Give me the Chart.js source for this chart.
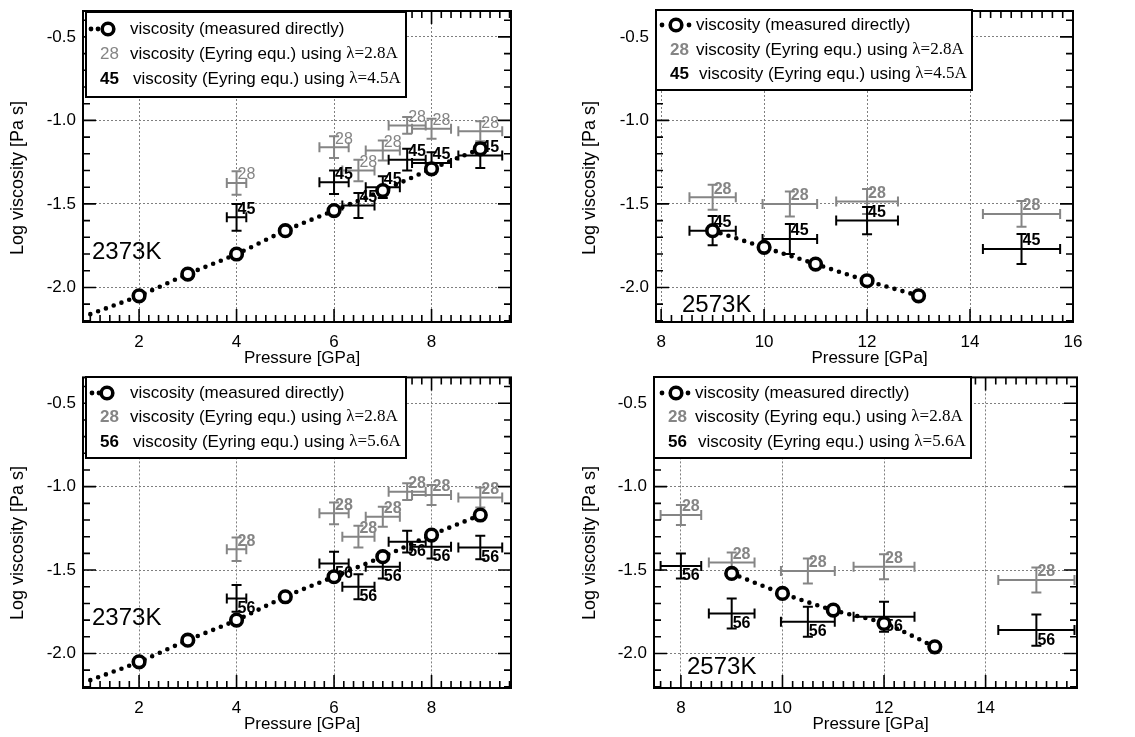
<!DOCTYPE html>
<html>
<head>
<meta charset="utf-8">
<script src="https://cdn.jsdelivr.net/npm/chart.js@4/dist/chart.umd.min.js"></script>
<style>
  body { margin: 0; background: #fff; }
  #wrap { position: relative; width: 1135px; height: 737px; }
  canvas { position: absolute; }
</style>
</head>
<body>
<div id="wrap">
  <canvas id="p1"></canvas>
  <canvas id="p2"></canvas>
  <canvas id="p3"></canvas>
  <canvas id="p4"></canvas>
</div>
<script>
// ---- 2373 K ----
const pressMeasA = [2, 3, 4, 5, 6, 7, 8, 9];
const viscMeasA  = [-2.05, -1.92, -1.80, -1.66, -1.54, -1.42, -1.29, -1.17];
// dotted guide starts a bit below 2 GPa
const guideStartA = [1, -2.16];

const pressEyrA = [4, 6, 6.5, 7, 7.5, 8, 9];
const pressErrA = [0.2, 0.3, 0.33, 0.35, 0.38, 0.4, 0.45];
const visc28A   = [-1.375, -1.16, -1.30, -1.18, -1.03, -1.05, -1.065];
const err28A    = [0.07, 0.065, 0.065, 0.06, 0.05, 0.06, 0.06];
const visc45A   = [-1.58, -1.37, -1.51, -1.40, -1.235, -1.255, -1.21];
const err45A    = [0.08, 0.07, 0.075, 0.065, 0.065, 0.065, 0.075];
const visc56A   = [-1.67, -1.46, -1.60, -1.48, -1.33, -1.36, -1.365];
const err56A    = [0.08, 0.07, 0.075, 0.07, 0.065, 0.07, 0.07];

// ---- 2573 K ----
const pressMeasB = [9, 10, 11, 12, 13];
const viscMeasB1 = [-1.66, -1.76, -1.86, -1.96, -2.05];
const viscMeasB2 = [-1.52, -1.64, -1.74, -1.82, -1.96];

const pressEyrB1 = [9, 10.5, 12, 15];
const pressErrB1 = [0.45, 0.53, 0.6, 0.75];
const visc28B1   = [-1.46, -1.50, -1.485, -1.56];
const err28B1    = [0.075, 0.075, 0.075, 0.077];
const visc45B1   = [-1.66, -1.71, -1.60, -1.77];
const err45B1    = [0.087, 0.09, 0.082, 0.09];

const pressEyrB2 = [8, 9, 10.5, 12, 15];
const pressErrB2 = [0.4, 0.45, 0.53, 0.6, 0.75];
const visc28B2   = [-1.17, -1.455, -1.505, -1.48, -1.56];
const err28B2    = [0.06, 0.06, 0.075, 0.075, 0.075];
const visc56B2   = [-1.475, -1.76, -1.81, -1.78, -1.86];
const err56B2    = [0.075, 0.09, 0.09, 0.09, 0.093];

const yTicksLabel = v => v.toFixed(1);

const SANS = "'Liberation Sans', Arial, Helvetica, sans-serif";
const SERIF = "'Liberation Serif', 'Times New Roman', serif";
const GRAY = '#858585';

Chart.defaults.font.family = SANS;
Chart.defaults.color = '#000';

const pts = (xs, ys) => xs.map((x, i) => ({x: x, y: ys[i]}));

function ring(ctx, x, y) {
  ctx.beginPath();
  ctx.arc(x, y, 5.8, 0, Math.PI * 2);
  ctx.fillStyle = '#fff';
  ctx.fill();
  ctx.lineWidth = 3.6;
  ctx.strokeStyle = '#000';
  ctx.stroke();
}

function drawLegend(ctx, L) {
  const [bx, by, bw, bh] = L.box;
  ctx.fillStyle = '#fff';
  ctx.fillRect(bx, by, bw, bh);
  ctx.lineWidth = 2;
  ctx.strokeStyle = '#000';
  ctx.strokeRect(bx, by, bw, bh);

  ctx.textBaseline = 'middle';
  ctx.textAlign = 'left';

  // measured: dots + ring
  ctx.fillStyle = '#000';
  L.dots.forEach(d => {
    ctx.beginPath();
    ctx.arc(d, L.rows[0], 2.4, 0, Math.PI * 2);
    ctx.fill();
  });
  ring(ctx, L.ring, L.rows[0]);
  ctx.fillStyle = '#000';
  ctx.font = '17px ' + SANS;
  ctx.fillText('viscosity (measured directly)', L.textX[0], L.rows[0]);

  const eyring = (row, tag, tagColor, tagBold, lam) => {
    const yy = L.rows[row];
    ctx.fillStyle = tagColor;
    ctx.font = (tagBold ? 'bold ' : '') + '17px ' + SANS;
    ctx.fillText(tag, L.tagX, yy);
    ctx.fillStyle = '#000';
    ctx.font = '17px ' + SANS;
    const s = 'viscosity (Eyring equ.) using ';
    ctx.fillText(s, L.textX[row], yy);
    const w = ctx.measureText(s).width;
    ctx.font = '17px ' + SERIF;
    ctx.fillText('\u03bb=' + lam + 'A', L.textX[row] + w, yy);
  };
  eyring(1, '28', GRAY, L.bold28, '2.8');
  eyring(2, L.tag, '#000', true, L.lam);
}

function makePanel(id, c) {
  const cv = document.getElementById(id);
  cv.style.left = c.pos[0] + 'px';
  cv.style.top = c.pos[1] + 'px';
  cv.width = c.pos[2];
  cv.height = c.pos[3];
  const [al, at, ar, ab] = c.area;

  const datasets = [
    { data: pts(c.meas[0], c.meas[1]), pointRadius: 5.8, pointBorderWidth: 3.6,
      pointBackgroundColor: '#fff', pointBorderColor: '#000', showLine: false },
    { data: c.guide, showLine: true, pointRadius: 0, borderColor: '#000', borderWidth: 4.6,
      borderDash: [0, 8.3], borderCapStyle: 'round', cubicInterpolationMode: 'monotone' }
  ];
  c.bars.forEach(b => datasets.push({
    data: pts(b.p, b.v), pointRadius: 0, showLine: false,
    xErr: b.pe, yErr: b.ve, tag: b.tag, barColor: b.color, bold: b.bold, below: b.below
  }));

  const decor = {
    id: 'decor',
    beforeDatasetsDraw(chart) {
      const {ctx, scales: {x, y}} = chart;
      ctx.save();
      chart.data.datasets.forEach(ds => {
        if (!ds.xErr) return;
        ctx.strokeStyle = ds.barColor;
        ctx.fillStyle = ds.barColor;
        ctx.lineWidth = 2;
        ctx.font = (ds.bold ? 'bold ' : '') + '16px ' + SANS;
        ctx.textAlign = 'left';
        ctx.textBaseline = 'middle';
        ds.data.forEach((pt, i) => {
          const cx = x.getPixelForValue(pt.x), cy = y.getPixelForValue(pt.y);
          const xl = x.getPixelForValue(pt.x - ds.xErr[i]);
          const xr = x.getPixelForValue(pt.x + ds.xErr[i]);
          const yt = y.getPixelForValue(pt.y + ds.yErr[i]);
          const yb = y.getPixelForValue(pt.y - ds.yErr[i]);
          ctx.beginPath();
          ctx.moveTo(xl, cy); ctx.lineTo(xr, cy);
          ctx.moveTo(cx, yt); ctx.lineTo(cx, yb);
          ctx.moveTo(xl, cy - 5); ctx.lineTo(xl, cy + 5);
          ctx.moveTo(xr, cy - 5); ctx.lineTo(xr, cy + 5);
          ctx.moveTo(cx - 5, yt); ctx.lineTo(cx + 5, yt);
          ctx.moveTo(cx - 5, yb); ctx.lineTo(cx + 5, yb);
          ctx.stroke();
          ctx.fillText(ds.tag, cx + 1, ds.below ? cy + 10 : cy - 8);
        });
      });
      ctx.restore();
    },
    afterDraw(chart) {
      const {ctx, chartArea: a, scales: {x, y}} = chart;
      ctx.save();
      // frame with inward ticks on all four sides
      ctx.strokeStyle = '#000';
      ctx.lineWidth = 2;
      ctx.strokeRect(a.left, a.top, a.right - a.left, a.bottom - a.top);
      ctx.lineWidth = 1.6;
      ctx.beginPath();
      for (let k = Math.ceil(y.min * 10); k <= Math.floor(y.max * 10); k++) {
        const py = y.getPixelForValue(k / 10), len = k % 5 === 0 ? 13 : 7;
        ctx.moveTo(a.left, py); ctx.lineTo(a.left + len, py);
        ctx.moveTo(a.right, py); ctx.lineTo(a.right - len, py);
      }
      for (let k = Math.ceil(x.min * 5); k <= Math.floor(x.max * 5); k++) {
        const px = x.getPixelForValue(k / 5), len = k % 10 === 0 ? 13 : 7;
        ctx.moveTo(px, a.bottom); ctx.lineTo(px, a.bottom - len);
        ctx.moveTo(px, a.top); ctx.lineTo(px, a.top + len);
      }
      ctx.stroke();

      drawLegend(ctx, c.legend);

      // temperature
      ctx.fillStyle = '#000';
      ctx.font = '24px ' + SANS;
      ctx.textAlign = 'left';
      ctx.textBaseline = 'middle';
      ctx.fillText(c.temp[0], c.temp[1], c.temp[2]);

      // axis titles
      ctx.font = '17px ' + SANS;
      ctx.textAlign = 'center';
      ctx.fillText('Pressure [GPa]', (a.left + a.right) / 2 + 5, a.bottom + 36);
      ctx.translate(c.yTitle[0], c.yTitle[1]);
      ctx.rotate(-Math.PI / 2);
      ctx.font = '18px ' + SANS;
      ctx.fillText('Log viscosity [Pa s]', 0, 0);
      ctx.restore();
    }
  };

  const noPad = s => { s.paddingTop = 0; s.paddingBottom = 0; s.paddingLeft = 0; s.paddingRight = 0; };

  new Chart(cv, {
    type: 'scatter',
    data: { datasets: datasets },
    options: {
      responsive: false,
      animation: false,
      events: [],
      layout: { padding: { left: 0, top: at, right: c.pos[2] - ar, bottom: 0 } },
      plugins: { legend: { display: false }, tooltip: { enabled: false } },
      scales: {
        x: {
          type: 'linear', min: c.xr[0], max: c.xr[1],
          afterFit: s => { s.height = c.pos[3] - ab; noPad(s); },
          ticks: { stepSize: 2, includeBounds: false, padding: 10, font: { size: 17 }, color: '#000' },
          grid: { color: '#7f7f7f', lineWidth: 1, drawTicks: false },
          border: { display: false, dash: [2, 2] }
        },
        y: {
          type: 'linear', min: -2.207, max: -0.345,
          afterFit: s => { s.width = al; noPad(s); },
          ticks: { stepSize: 0.5, includeBounds: false, padding: 7, font: { size: 17 }, color: '#000',
                   callback: yTicksLabel },
          grid: { color: '#7f7f7f', lineWidth: 1, drawTicks: false },
          border: { display: false, dash: [2, 2] }
        }
      }
    },
    plugins: [decor]
  });
}

makePanel('p1', {
  pos: [0, 0, 567, 368], area: [83, 11, 511, 322], xr: [0.85, 9.63],
  meas: [pressMeasA, viscMeasA],
  guide: [{x: guideStartA[0], y: guideStartA[1]}].concat(pts(pressMeasA, viscMeasA)),
  bars: [
    { p: pressEyrA, pe: pressErrA, v: visc28A, ve: err28A, tag: '28', color: GRAY, bold: false, below: false },
    { p: pressEyrA, pe: pressErrA, v: visc45A, ve: err45A, tag: '45', color: '#000', bold: true, below: false }
  ],
  legend: { box: [86, 12, 320, 85], rows: [29, 54, 79], dots: [91, 98], ring: 108,
            textX: [130, 130, 133], tagX: 100, bold28: false, tag: '45', lam: '4.5' },
  temp: ['2373K', 92, 252], yTitle: [18, 178]
});

makePanel('p2', {
  pos: [567, 0, 568, 368], area: [89, 11, 506, 322], xr: [7.9, 16],
  meas: [pressMeasB, viscMeasB1],
  guide: pts(pressMeasB, viscMeasB1),
  bars: [
    { p: pressEyrB1, pe: pressErrB1, v: visc28B1, ve: err28B1, tag: '28', color: GRAY, bold: true, below: false },
    { p: pressEyrB1, pe: pressErrB1, v: visc45B1, ve: err45B1, tag: '45', color: '#000', bold: true, below: false }
  ],
  legend: { box: [89, 10, 316, 80], rows: [25, 50, 74], dots: [95, 122], ring: 109,
            textX: [129, 129, 132], tagX: 103, bold28: true, tag: '45', lam: '4.5' },
  temp: ['2573K', 115, 305], yTitle: [23, 178]
});

makePanel('p3', {
  pos: [0, 368, 567, 369], area: [83, 9, 511, 320], xr: [0.85, 9.63],
  meas: [pressMeasA, viscMeasA],
  guide: [{x: guideStartA[0], y: guideStartA[1]}].concat(pts(pressMeasA, viscMeasA)),
  bars: [
    { p: pressEyrA, pe: pressErrA, v: visc28A, ve: err28A, tag: '28', color: GRAY, bold: true, below: false },
    { p: pressEyrA, pe: pressErrA, v: visc56A, ve: err56A, tag: '56', color: '#000', bold: true, below: true }
  ],
  legend: { box: [86, 9, 320, 81], rows: [25, 49, 74], dots: [92, 99], ring: 107,
            textX: [130, 130, 133], tagX: 100, bold28: true, tag: '56', lam: '5.6' },
  temp: ['2373K', 92, 250], yTitle: [18, 175]
});

makePanel('p4', {
  pos: [567, 368, 568, 369], area: [87, 9, 510, 320], xr: [7.47, 15.8],
  meas: [pressMeasB, viscMeasB2],
  guide: pts(pressMeasB, viscMeasB2),
  bars: [
    { p: pressEyrB2, pe: pressErrB2, v: visc28B2, ve: err28B2, tag: '28', color: GRAY, bold: true, below: false },
    { p: pressEyrB2, pe: pressErrB2, v: visc56B2, ve: err56B2, tag: '56', color: '#000', bold: true, below: true }
  ],
  legend: { box: [87, 9, 317, 81], rows: [25, 49, 74], dots: [95, 121], ring: 109,
            textX: [128, 128, 131], tagX: 101, bold28: true, tag: '56', lam: '5.6' },
  temp: ['2573K', 120, 299], yTitle: [23, 175]
});
</script>
</body>
</html>
